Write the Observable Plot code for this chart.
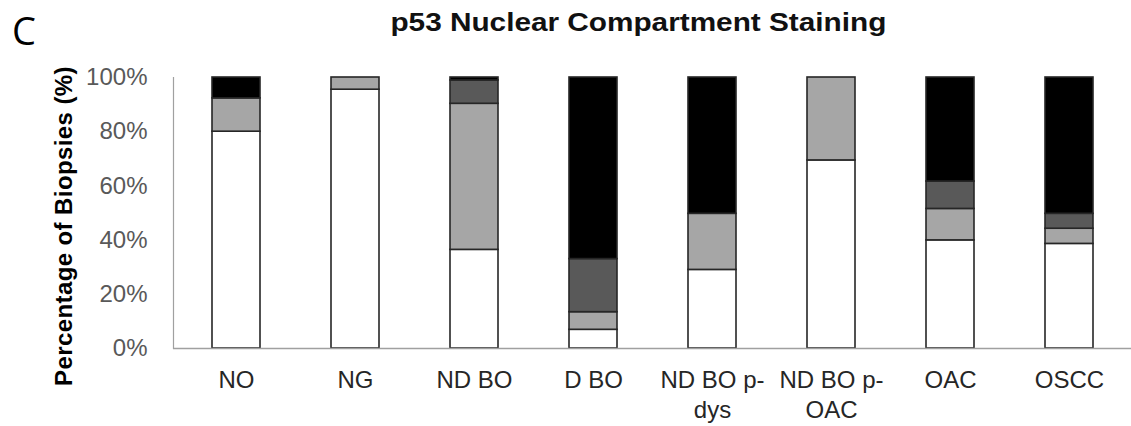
<!DOCTYPE html>
<html>
<head>
<meta charset="utf-8">
<script src="https://cdn.jsdelivr.net/npm/d3@7"></script>
<script src="https://cdn.jsdelivr.net/npm/@observablehq/plot@0.6"></script>
<style>
  html, body { margin: 0; padding: 0; background: #fff; }
  #wrap { position: relative; width: 1131px; height: 426px; overflow: hidden; font-family: "Liberation Sans", Arial, sans-serif; }
  #panel { position: absolute; left: 12px; top: 11px; font-family: "Open Sans", "Liberation Sans", sans-serif; font-size: 38px; color: #000; line-height: 1; }
  #title { position: absolute; left: 390px; top: 7px; width: 496px; text-align: center; font-weight: bold; font-size: 25px; color: #111; white-space: nowrap; line-height: 1.2; }
  #title span { display: inline-block; transform: scaleX(1.19); transform-origin: center; }
  #chart { position: absolute; left: 0; top: 0; }
</style>
</head>
<body>
<div id="wrap">
  <div id="chart"></div>
  <div id="panel">C</div>
  <div id="title"><span>p53 Nuclear Compartment Staining</span></div>
</div>
<script>
const categories = ["NO", "NG", "ND BO", "D BO", "ND BO p-\ndys", "ND BO p-\nOAC", "OAC", "OSCC"];
const series = ["s1", "s2", "s3", "s4"];
const seriesColors = ["#ffffff", "#a6a6a6", "#595959", "#000000"];
// percentages, bottom to top
const s1 = [80.0, 95.5, 36.4, 6.9, 29.0, 69.4, 39.9, 38.6];
const s2 = [12.3, 4.5, 53.9, 6.5, 20.7, 30.6, 11.6, 5.6];
const s3 = [0.0, 0.0, 8.6, 19.6, 0.0, 0.0, 10.1, 5.5];
const s4 = [7.7, 0.0, 1.1, 67.0, 50.3, 0.0, 38.4, 50.3];
const yTicks = [0, 20, 40, 60, 80, 100];

const values = [s1, s2, s3, s4];
const data = [];
categories.forEach((c, i) => {
  series.forEach((s, j) => {
    data.push({cat: c, series: s, value: values[j][i]});
  });
});

const font = "'Liberation Sans', Arial, sans-serif";
const chart = Plot.plot({
  width: 1131,
  height: 426,
  marginTop: 77,
  marginBottom: 78,
  marginLeft: 173,
  marginRight: 0,
  style: {fontFamily: font, background: "transparent"},
  x: {domain: categories, paddingInner: 0.6, paddingOuter: 0.3, label: null},
  y: {domain: [0, 100], label: null},
  color: {domain: series, range: seriesColors},
  marks: [
    Plot.barY(data, Plot.stackY({order: series, x: "cat", y: "value", fill: "series", stroke: "#262626", strokeWidth: 1.6})),
    Plot.ruleY([0], {stroke: "#a0a0a0", strokeWidth: 1.5}),
    Plot.frame({anchor: "left", stroke: "#a0a0a0", strokeWidth: 1.2}),
    Plot.axisY({ticks: yTicks, tickFormat: d => d + "%", tickSize: 0, tickPadding: 26, fontSize: 24, fill: "#595959", label: null}),
    Plot.axisX({tickSize: 0, tickPadding: 19, fontSize: 24, lineHeight: 1.22, fill: "#262626", label: null})
  ]
});
document.getElementById("chart").appendChild(chart);

// y-axis label
d3.select(chart).append("text")
  .attr("transform", "translate(72,226) rotate(-90)")
  .attr("text-anchor", "middle")
  .attr("font-family", font)
  .attr("font-weight", "bold")
  .attr("font-size", 24)
  .attr("letter-spacing", 0.4)
  .attr("fill", "#000")
  .text("Percentage of Biopsies (%)");
</script>
</body>
</html>
